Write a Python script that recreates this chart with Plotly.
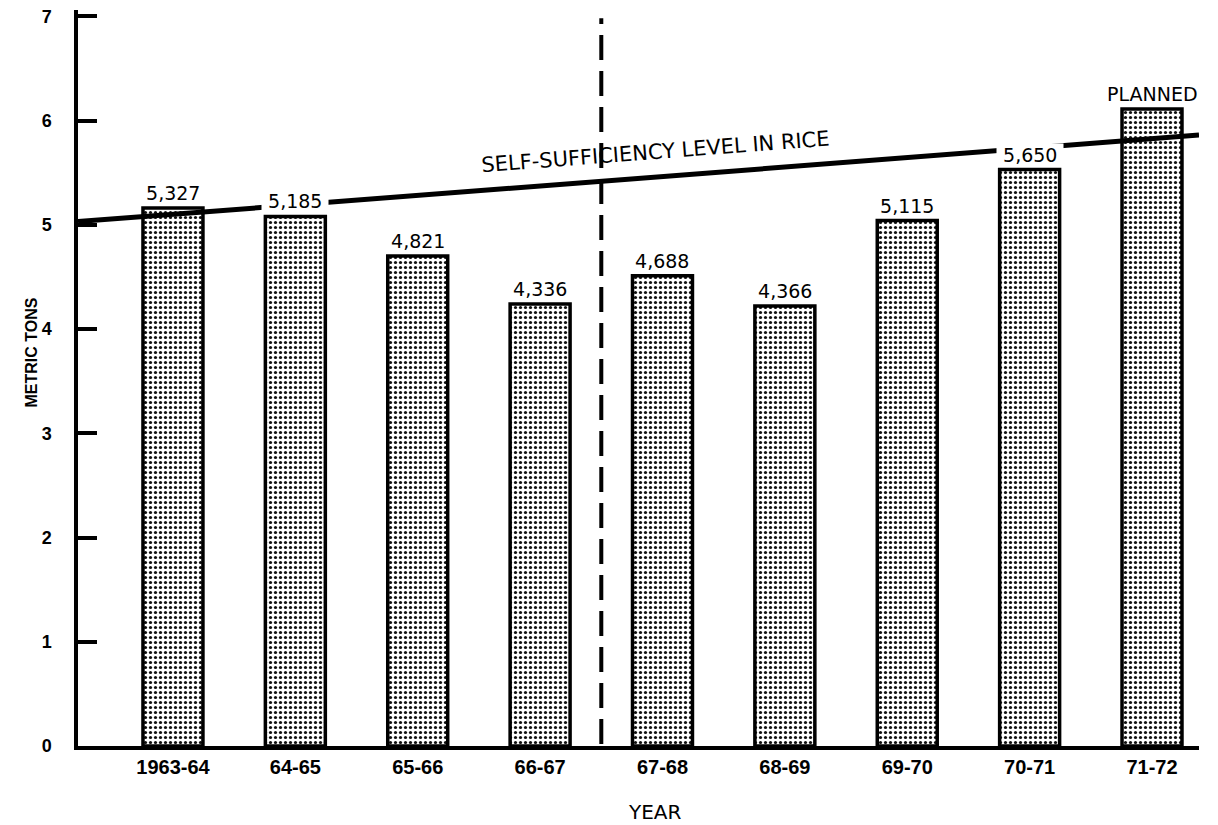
import plotly.graph_objects as go

# ---- data ----
years = ["1963-64", "64-65", "65-66", "66-67", "67-68", "68-69", "69-70", "70-71", "71-72"]
production = [5.16, 5.08, 4.70, 4.24, 4.51, 4.22, 5.04, 5.53, 6.11]   # bar heights
bar_labels = ["5,327", "5,185", "4,821", "4,336", "4,688", "4,366", "5,115", "5,650", "PLANNED"]
sufficiency_level = [5.03, 5.86]          # self-sufficiency line at left and right edge of the axis
y_ticks = [0, 1, 2, 3, 4, 5, 6, 7]

ARIAL = "Liberation Sans, Arial, Helvetica, sans-serif"
WIDE = "DejaVu Sans, Verdana, sans-serif"

idx = list(range(len(years)))
x_min, x_max = -0.776, 8.384
y_top = 7.06

fig = go.Figure()

fig.add_trace(go.Bar(
    x=idx, y=production, width=0.49,
    marker=dict(
        color="white",
        line=dict(color="black", width=3.5),
        pattern=dict(shape=".", size=5, solidity=0.33, fgcolor="#111111",
                     bgcolor="white", fillmode="replace"),
    ),
    showlegend=False, hoverinfo="skip",
))

fig.add_trace(go.Scatter(
    x=[x_min, x_max], y=sufficiency_level, mode="lines",
    line=dict(color="black", width=5), showlegend=False, hoverinfo="skip",
))

# separator between the two periods
fig.add_shape(type="line", xref="x", yref="y",
              x0=(idx[3] + idx[4]) / 2, x1=(idx[3] + idx[4]) / 2, y0=0.02, y1=6.98,
              line=dict(color="black", width=4, dash="25px,11px"))

# value labels above bars (white background breaks the line where crossed)
for i, (v, lab) in enumerate(zip(production, bar_labels)):
    fig.add_annotation(x=i, y=v, text="\u00a0" + lab + "\u00a0", showarrow=False,
                       yanchor="bottom", yshift=3, bgcolor="white", borderpad=0,
                       font=dict(family=WIDE, size=19, color="black"))

# line label
fig.add_annotation(x=3.94, y=5.70, text="SELF-SUFFICIENCY LEVEL IN RICE", showarrow=False,
                   textangle=-4.4, font=dict(family=WIDE, size=21, color="black"))

# axis titles
fig.add_annotation(xref="paper", yref="paper", x=-0.051, y=0.535, text="<b>METRIC TONS</b>",
                   showarrow=False, textangle=-90,
                   font=dict(family=ARIAL, size=16, color="black"))
fig.add_annotation(xref="paper", yref="paper", x=0.515, y=-0.09, text="YEAR",
                   showarrow=False, yanchor="middle",
                   font=dict(family=WIDE, size=20, color="black"))

# the page body adds an 8px margin, so the figure is sized to fit the window
fig.update_layout(
    width=1210, height=817,
    margin=dict(l=70, r=19, t=2, b=79),
    paper_bgcolor="white", plot_bgcolor="white",
    xaxis=dict(
        range=[x_min, x_max], tickmode="array", tickvals=idx, ticktext=years,
        showline=True, linecolor="black", linewidth=3.5, showgrid=False, zeroline=False,
        ticks="", automargin=False,
        tickfont=dict(family=ARIAL, size=20, color="black", weight="bold"),
    ),
    yaxis=dict(
        range=[0, y_top], tickmode="array", tickvals=y_ticks,
        showline=True, linecolor="black", linewidth=3.5, showgrid=False, zeroline=False,
        ticks="inside", ticklen=19, tickwidth=4, tickcolor="black",
        ticklabelstandoff=19, automargin=False, ticklabeloverflow="allow",
        tickfont=dict(family=ARIAL, size=18, color="black", weight="bold"),
    ),
)

fig.write_html("out.html")
